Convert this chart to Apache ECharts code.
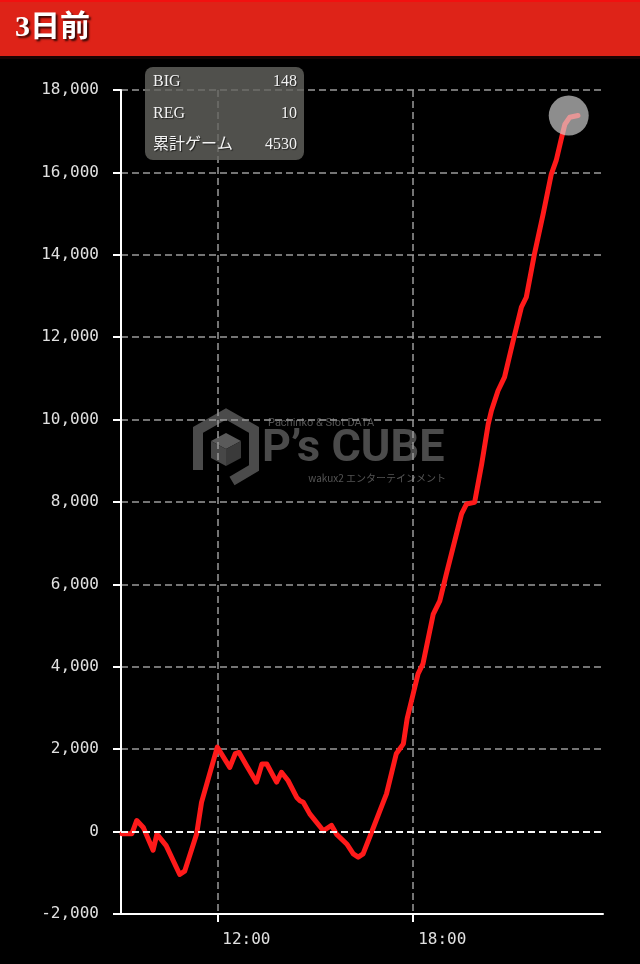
<!DOCTYPE html>
<html>
<head>
<meta charset="utf-8">
<script src="https://cdn.jsdelivr.net/npm/echarts@6/dist/echarts.min.js"></script>
<style>
html,body{margin:0;padding:0;background:#000;}
#chart{width:640px;height:964px;}
</style>
</head>
<body>
<div id="chart"></div>
<script>
// ---- data ----
const titleText = '3日前';
const timeLabels = ['9:05','9:23','9:32','9:44','10:02','10:09','10:26','10:51','11:00','11:22','11:31','12:00',
  '12:23','12:33','12:40','12:54','13:12','13:22','13:31','13:49','13:58','14:10','14:26','14:32','14:38','14:50',
  '15:15','15:30','15:39','15:58','16:10','16:19','16:28','16:47','16:59','17:11','17:29','17:42','17:49',
  '18:00','18:09','18:18','18:37','18:49','19:01','19:29','19:38','19:53','20:06','20:18','20:24','20:36','20:48',
  '21:04','21:19','21:28','21:43','21:59','22:14','22:23','22:33','22:39','22:48','23:03'];
const diffValues = [-50,-50,270,100,-450,-60,-340,-1040,-960,-60,710,2050,
  1560,1890,1920,1600,1200,1640,1640,1200,1440,1240,830,750,710,430,
  20,150,-60,-300,-540,-620,-540,100,510,915,1890,2130,2740,
  3340,3830,4070,5280,5600,6250,7710,7950,7990,8920,9890,10220,10700,11030,
  11920,12730,12970,14020,14990,15960,16290,16850,17170,17340,17380];
const markerTime = '22:46';
const markerValue = 17380;
const xMinTime = '9:03';
const xMaxTime = '23:49';
const xTickHours = [12, 18];
const yMin = -2000, yMax = 18000, yStep = 2000;
const infoLabels = ['BIG', 'REG', '累計ゲーム'];
const infoValues = ['148', '10', '4530'];

// ---- helpers ----
function toHours(s){ const p = s.split(':'); return +p[0] + (+p[1])/60; }
const lineData = timeLabels.map((t,i)=>[toHours(t), diffValues[i]]);

const chart = echarts.init(document.getElementById('chart'), null, {renderer:'canvas'});

const wmColor = '#4b4b4b';
const infoRows = infoLabels.map((lab,i)=>({
  type:'group', children:[
    {type:'text', x:153, y:82 + i*31.5, z:101, style:{text:lab, fill:'#f2f2f2', font:'16px "Liberation Serif", "Noto Sans CJK JP", serif', verticalAlign:'middle', textShadowColor:'rgba(0,0,0,0.6)', textShadowOffsetX:1, textShadowOffsetY:1, textShadowBlur:1}},
    {type:'text', x:297, y:82 + i*31.5, z:101, style:{text:infoValues[i], fill:'#f2f2f2', font:'16px "Liberation Serif", serif', align:'right', verticalAlign:'middle', textShadowColor:'rgba(0,0,0,0.6)', textShadowOffsetX:1, textShadowOffsetY:1, textShadowBlur:1}}
  ]
}));

const option = {
  backgroundColor:'#000',
  animation:false,
  grid:{left:121, right:37, top:90, bottom:50},
  xAxis:{
    type:'value', min:toHours(xMinTime), max:toHours(xMaxTime),
    axisLine:{show:true, onZero:false, lineStyle:{color:'#fff', width:2}},
    axisTick:{show:true, length:8, customValues:xTickHours, lineStyle:{color:'#fff', width:2}},
    axisLabel:{customValues:xTickHours, formatter:(v)=>Math.round(v)+':00', color:'#e0e0e0',
      fontFamily:'DejaVu Sans Mono', fontSize:16, margin:18, align:'left', padding:[0,0,0,5]},
    splitLine:{show:true, lineStyle:{color:'#9a9a9a', type:[7,4], width:1.5}}
  },
  yAxis:{
    type:'value', min:yMin, max:yMax, interval:yStep,
    axisLine:{show:true, onZero:false, lineStyle:{color:'#fff', width:2}},
    axisTick:{show:true, length:8, lineStyle:{color:'#fff', width:2}},
    axisLabel:{color:'#e0e0e0', fontFamily:'DejaVu Sans Mono', fontSize:16, margin:22,
      formatter:(v)=>v.toLocaleString('en-US')},
    splitLine:{show:true, lineStyle:{color:'#9a9a9a', type:[7,4], width:1.5}}
  },
  series:[
    {type:'line', data:[], z:1, silent:true,
     markLine:{silent:true, symbol:'none', label:{show:false},
       lineStyle:{color:'#f4f4f4', type:[7,4], width:2}, data:[{yAxis:0}]}},
    {type:'line', data:lineData, showSymbol:false, z:3, silent:true,
     lineStyle:{color:'#ff1a1a', width:5, cap:'round', join:'round'}},
    {type:'scatter', data:[[toHours(markerTime), markerValue]], symbolSize:40, z:4, silent:true,
     itemStyle:{color:'rgba(215,215,215,0.82)'}}
  ],
  graphic:[
    // watermark
    {type:'polyline', z:-1, shape:{points:[[198,470],[198,430],[226,414],[254,430],[254,468],[232,481]]},
     style:{stroke:wmColor, lineWidth:10, fill:null, lineJoin:'miter'}},
    {type:'polygon', z:-1, shape:{points:[[226,433],[241,441],[226,449],[211,441]]}, style:{fill:'#5a5a5a'}},
    {type:'polygon', z:-1, shape:{points:[[211,441],[226,449],[226,466],[211,458]]}, style:{fill:'#474747'}},
    {type:'polygon', z:-1, shape:{points:[[226,449],[241,441],[241,458],[226,466]]}, style:{fill:'#3a3a3a'}},
    {type:'text', z:-1, x:268, y:423, style:{text:'Pachinko & Slot DATA', fill:'#555', font:'11px Roboto', verticalAlign:'middle'}},
    {type:'text', z:-1, x:262, y:450, style:{text:'P’s CUBE', fill:wmColor, font:'bold 45px Roboto', verticalAlign:'middle'}},
    {type:'text', z:-1, x:446, y:478, style:{text:'wakux2 エンターテインメント', fill:'#555', font:'10px "Noto Sans CJK JP"', align:'right', verticalAlign:'middle'}},
    // header
    {type:'rect', z:100, shape:{x:0,y:0,width:640,height:56}, style:{fill:'#de2318'}},
    {type:'rect', z:100, shape:{x:0,y:0,width:640,height:2}, style:{fill:'#f21010'}},
    {type:'rect', z:100, shape:{x:0,y:56,width:640,height:3}, style:{fill:'#1a0303'}},
    {type:'text', z:101, x:15, y:28, style:{text:titleText, fill:'#fff', font:'bold 30px "Liberation Serif", "Noto Sans CJK JP"', verticalAlign:'middle',
      textShadowColor:'rgba(0,0,0,0.75)', textShadowOffsetX:2, textShadowOffsetY:2, textShadowBlur:2}},
    // info box
    {type:'rect', z:100, shape:{x:145,y:67,width:159,height:93,r:8}, style:{fill:'rgba(100,100,95,0.8)'}},
    ...infoRows
  ]
};
chart.setOption(option);
</script>
</body>
</html>
